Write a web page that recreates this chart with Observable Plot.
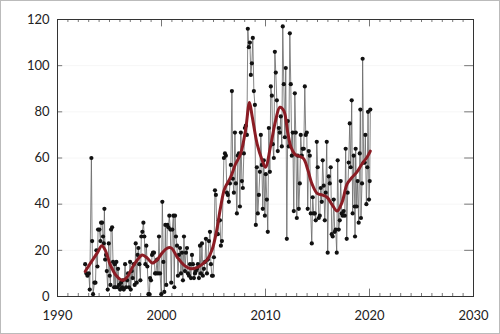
<!DOCTYPE html>
<html><head><meta charset="utf-8">
<script src="https://cdn.jsdelivr.net/npm/d3@7"></script>
<script src="https://cdn.jsdelivr.net/npm/@observablehq/plot@0.6"></script>
<style>
html,body{margin:0;padding:0;background:#fff;}
#wrap{width:500px;height:334px;box-sizing:border-box;border:1px solid #bbb;overflow:hidden;}
</style></head>
<body><div id="wrap"></div>
<script>
const years = [1992.66,1992.78,1992.88,1993.01,1993.10,1993.26,1993.33,1993.42,1993.55,1993.65,1993.74,1993.84,1993.90,1994.03,1994.13,1994.19,1994.29,1994.38,1994.45,1994.51,1994.58,1994.67,1994.74,1994.83,1994.93,1995.02,1995.09,1995.15,1995.25,1995.34,1995.44,1995.50,1995.57,1995.66,1995.76,1995.82,1995.92,1996.02,1996.11,1996.21,1996.27,1996.37,1996.50,1996.59,1996.69,1996.78,1996.88,1996.98,1997.04,1997.14,1997.23,1997.33,1997.42,1997.52,1997.62,1997.71,1997.78,1997.87,1997.97,1998.06,1998.16,1998.26,1998.35,1998.45,1998.54,1998.64,1998.74,1998.83,1998.90,1998.99,1999.09,1999.18,1999.28,1999.38,1999.47,1999.57,1999.66,1999.76,1999.86,1999.98,2000.08,2000.18,2000.27,2000.37,2000.46,2000.56,2000.66,2000.75,2000.85,2000.94,2001.04,2001.14,2001.23,2001.30,2001.39,2001.49,2001.58,2001.68,2001.78,2001.87,2001.97,2002.06,2002.16,2002.26,2002.35,2002.45,2002.54,2002.64,2002.74,2002.83,2002.93,2003.02,2003.12,2003.22,2003.31,2003.41,2003.50,2003.60,2003.70,2003.79,2003.89,2003.98,2004.08,2004.18,2004.27,2004.37,2004.46,2004.56,2004.66,2004.75,2004.85,2004.94,2005.04,2005.14,2005.23,2005.33,2005.42,2005.52,2005.62,2005.71,2005.81,2006.00,2006.10,2006.19,2006.29,2006.38,2006.48,2006.58,2006.67,2006.77,2006.86,2006.96,2007.06,2007.15,2007.25,2007.34,2007.44,2007.54,2007.63,2007.73,2007.82,2007.92,2008.02,2008.11,2008.21,2008.30,2008.40,2008.50,2008.59,2008.69,2008.78,2008.88,2008.98,2009.07,2009.17,2009.26,2009.36,2009.46,2009.55,2009.65,2009.74,2009.84,2009.94,2010.03,2010.13,2010.22,2010.32,2010.42,2010.51,2010.61,2010.70,2010.80,2010.90,2010.99,2011.09,2011.18,2011.28,2011.38,2011.47,2011.57,2011.66,2011.76,2011.86,2011.95,2012.05,2012.14,2012.24,2012.34,2012.43,2012.53,2012.62,2012.72,2012.82,2012.91,2013.01,2013.10,2013.20,2013.30,2013.39,2013.49,2013.58,2013.68,2013.78,2013.87,2013.97,2014.06,2014.16,2014.26,2014.35,2014.45,2014.54,2014.64,2014.74,2014.83,2014.93,2015.02,2015.12,2015.22,2015.31,2015.41,2015.50,2015.60,2015.70,2015.79,2015.89,2015.98,2016.08,2016.18,2016.27,2016.37,2016.46,2016.56,2016.66,2016.75,2016.85,2016.94,2017.04,2017.14,2017.23,2017.33,2017.42,2017.52,2017.62,2017.71,2017.81,2017.90,2018.00,2018.10,2018.19,2018.29,2018.38,2018.48,2018.58,2018.61,2018.67,2018.77,2018.86,2018.96,2019.06,2019.12,2019.18,2019.28,2019.34,2019.44,2019.54,2019.60,2019.70,2019.79,2019.86,2019.95,2020.02,2020.08];
const values = [14,10,9,10,3,60,24,1,6,6,20,13,29,29,24,32,32,26,23,38,16,18,11,3,23,9,5,29,30,15,4,14,4,15,4,12,5,3,6,4,7,3,14,4,7,10,4,15,3,11,8,14,5,23,6,18,21,14,7,26,28,32,26,14,22,13,1,1,8,7,18,19,19,10,10,16,10,26,10,1,41,15,2,31,5,31,30,35,29,6,29,35,4,35,26,22,9,18,21,10,19,7,26,11,19,21,10,9,14,8,18,14,8,10,11,12,14,8,22,10,23,9,12,15,25,10,16,24,28,14,9,9,17,46,44,27,27,33,33,22,24,60,62,61,45,44,41,49,57,89,51,45,71,49,36,61,62,39,71,50,47,62,73,74,70,116,108,110,96,101,112,89,83,31,56,36,44,54,70,57,38,59,35,53,42,28,73,54,91,87,66,60,106,97,85,63,73,71,78,65,117,92,69,99,25,76,65,114,92,61,71,37,88,71,34,61,38,49,70,61,64,64,91,70,71,38,63,61,36,23,43,36,36,33,67,56,34,35,47,41,59,48,33,45,67,19,52,49,56,27,26,42,28,29,19,59,29,33,50,36,35,37,35,64,25,45,58,75,56,85,36,61,39,26,64,39,50,32,62,81,34,49,103,58,58,70,40,56,80,42,50,81];

const smoothYears = [1992.66,1993.2,1993.84,1994.26,1994.6,1995.05,1995.6,1996.24,1996.7,1997.2,1997.7,1998.16,1998.64,1999.12,1999.6,2000.08,2000.56,2000.94,2001.52,2002.16,2002.8,2003.44,2003.92,2004.4,2004.88,2005.3,2005.68,2006.06,2006.64,2007.12,2007.6,2008.08,2008.46,2008.72,2009.2,2009.68,2010.0,2010.48,2010.96,2011.38,2011.76,2012.14,2012.46,2012.88,2013.36,2013.68,2014.06,2014.48,2014.96,2015.44,2015.92,2016.4,2016.88,2017.36,2017.84,2018.32,2018.8,2019.28,2019.76,2020.08];
const smoothValues = [10.8,14.7,19,22,20,14,9.3,7,8.5,12.6,16,18,16.6,14.5,16,19,21,21,17,13.6,12,12.6,14,16,20.5,28.5,38.6,46.6,51.6,57.4,61.7,72,84,78,66,59,56,65,76,82,80.5,71,64.6,61.4,60.6,59.6,55,48.7,44.7,44,43,39.8,37,40.8,48.7,51.6,54,57.4,60.3,63];

const xMajor = [1990,2000,2010,2020,2030];
const xMinor = d3.range(1990, 2031);
const yTicks = [0,20,40,60,80,100,120];

const pts = years.map((y,i)=>({year:y, value:values[i]}));
const smooth = smoothYears.map((y,i)=>({year:y, value:smoothValues[i]}));

const tickStroke = "#777";
const chart = Plot.plot({
  width: 498, height: 332,
  marginLeft: 56, marginRight: 26, marginTop: 18, marginBottom: 37,
  style: {fontFamily: "Lato, 'Open Sans', sans-serif", fontSize: "13px", color: "#222", background: "#fff"},
  x: {domain: [1990, 2030]},
  y: {domain: [0, 120]},
  marks: [
    Plot.ruleY(yTicks.slice(1, -1), {stroke: "#f6f6f6", strokeWidth: 1}),
    Plot.axisX({ticks: xMajor, tickSize: 0, tickPadding: 14, tickFormat: d => String(d), label: null, fontSize: 13}),
    Plot.axisY({ticks: yTicks, tickSize: 0, tickPadding: 8, label: null, fontSize: 13}),
    Plot.ruleX(xMinor, {x: d => d, y1: 0, y2: 1.3, stroke: tickStroke}),
    Plot.ruleX(xMinor, {x: d => d, y1: 120, y2: 118.7, stroke: tickStroke}),
    Plot.ruleX(xMajor, {x: d => d, y1: 0, y2: 3.2, stroke: tickStroke}),
    Plot.ruleX(xMajor, {x: d => d, y1: 120, y2: 116.8, stroke: tickStroke}),
    Plot.ruleY(yTicks, {y: d => d, x1: 1990, x2: 1990.5, stroke: tickStroke}),
    Plot.ruleY(yTicks, {y: d => d, x1: 2030, x2: 2029.15, stroke: tickStroke}),
    Plot.line(pts, {x: "year", y: "value", stroke: "#666", strokeWidth: 0.8}),
    Plot.dot(pts, {x: "year", y: "value", r: 2.1, fill: "#111", stroke: "none"}),
    Plot.line(smooth, {x: "year", y: "value", stroke: "#8b1c24", strokeWidth: 3, curve: "catmull-rom"}),
    Plot.frame({stroke: "#333", strokeWidth: 1})
  ]
});
document.getElementById("wrap").appendChild(chart);
</script>
</body></html>
